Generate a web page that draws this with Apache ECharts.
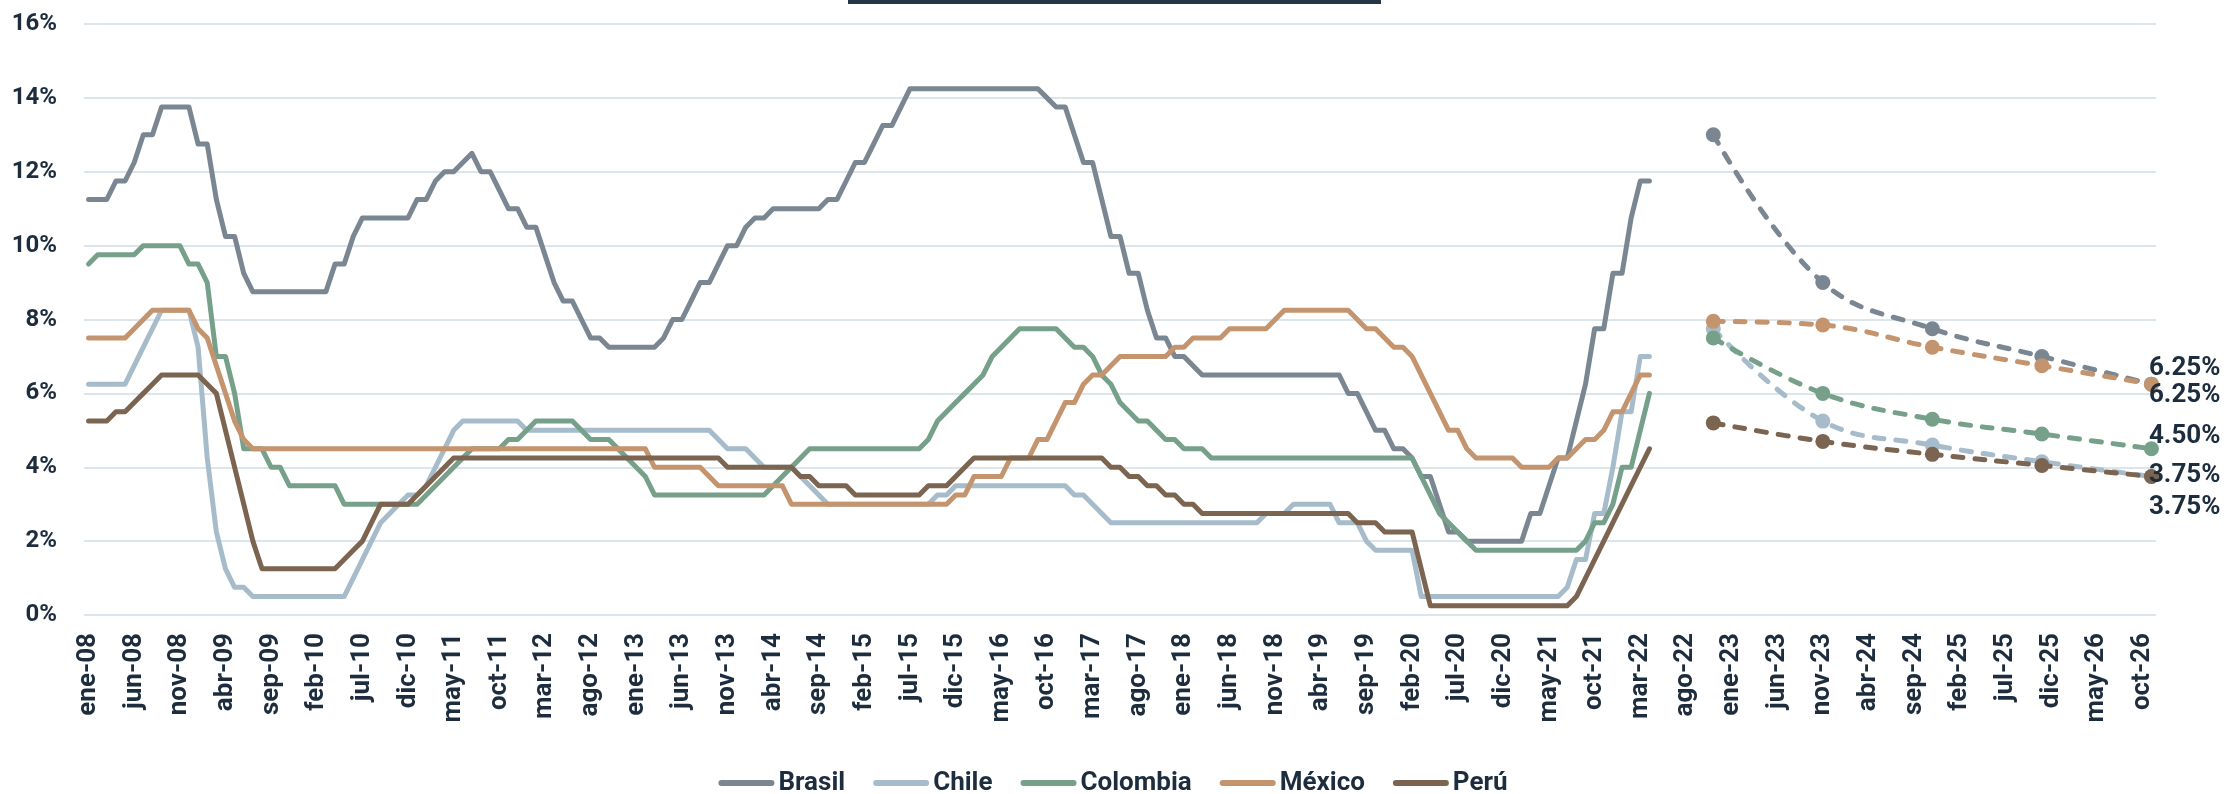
<!DOCTYPE html>
<html>
<head>
<meta charset="utf-8">
<script src="https://cdn.jsdelivr.net/npm/echarts/dist/echarts.min.js"></script>
<style>
  html, body { margin: 0; padding: 0; background: #fff; }
  #container { width: 2226px; height: 794px; }
</style>
</head>
<body>
<div id="container"></div>
<script>
// month labels ene-08 .. nov-26
var monthNames = ['ene','feb','mar','abr','may','jun','jul','ago','sep','oct','nov','dic'];
var categories = [];
for (var y = 8; y <= 26; y++) {
    for (var m = 0; m < 12; m++) {
        if (y === 26 && m > 10) break;
        categories.push(monthNames[m] + '-' + (y < 10 ? '0' + y : '' + y));
    }
}

// tasas de politica monetaria, fin de mes, ene-08 .. abr-22
var brasil = [
    11.25,11.25,11.25,11.75,11.75,12.25,13.00,13.00,13.75,13.75,13.75,13.75,
    12.75,12.75,11.25,10.25,10.25,9.25,8.75,8.75,8.75,8.75,8.75,8.75,
    8.75,8.75,8.75,9.50,9.50,10.25,10.75,10.75,10.75,10.75,10.75,10.75,
    11.25,11.25,11.75,12.00,12.00,12.25,12.50,12.00,12.00,11.50,11.00,11.00,
    10.50,10.50,9.75,9.00,8.50,8.50,8.00,7.50,7.50,7.25,7.25,7.25,
    7.25,7.25,7.25,7.50,8.00,8.00,8.50,9.00,9.00,9.50,10.00,10.00,
    10.50,10.75,10.75,11.00,11.00,11.00,11.00,11.00,11.00,11.25,11.25,11.75,
    12.25,12.25,12.75,13.25,13.25,13.75,14.25,14.25,14.25,14.25,14.25,14.25,
    14.25,14.25,14.25,14.25,14.25,14.25,14.25,14.25,14.25,14.00,13.75,13.75,
    13.00,12.25,12.25,11.25,10.25,10.25,9.25,9.25,8.25,7.50,7.50,7.00,
    7.00,6.75,6.50,6.50,6.50,6.50,6.50,6.50,6.50,6.50,6.50,6.50,
    6.50,6.50,6.50,6.50,6.50,6.50,6.00,6.00,5.50,5.00,5.00,4.50,
    4.50,4.25,3.75,3.75,3.00,2.25,2.25,2.00,2.00,2.00,2.00,2.00,
    2.00,2.00,2.75,2.75,3.50,4.25,4.25,5.25,6.25,7.75,7.75,9.25,
    9.25,10.75,11.75,11.75
];
var chile = [
    6.25,6.25,6.25,6.25,6.25,6.75,7.25,7.75,8.25,8.25,8.25,8.25,
    7.25,4.25,2.25,1.25,0.75,0.75,0.50,0.50,0.50,0.50,0.50,0.50,
    0.50,0.50,0.50,0.50,0.50,1.00,1.50,2.00,2.50,2.75,3.00,3.25,
    3.25,3.50,4.00,4.50,5.00,5.25,5.25,5.25,5.25,5.25,5.25,5.25,
    5.00,5.00,5.00,5.00,5.00,5.00,5.00,5.00,5.00,5.00,5.00,5.00,
    5.00,5.00,5.00,5.00,5.00,5.00,5.00,5.00,5.00,4.75,4.50,4.50,
    4.50,4.25,4.00,4.00,4.00,4.00,3.75,3.50,3.25,3.00,3.00,3.00,
    3.00,3.00,3.00,3.00,3.00,3.00,3.00,3.00,3.00,3.25,3.25,3.50,
    3.50,3.50,3.50,3.50,3.50,3.50,3.50,3.50,3.50,3.50,3.50,3.50,
    3.25,3.25,3.00,2.75,2.50,2.50,2.50,2.50,2.50,2.50,2.50,2.50,
    2.50,2.50,2.50,2.50,2.50,2.50,2.50,2.50,2.50,2.75,2.75,2.75,
    3.00,3.00,3.00,3.00,3.00,2.50,2.50,2.50,2.00,1.75,1.75,1.75,
    1.75,1.75,0.50,0.50,0.50,0.50,0.50,0.50,0.50,0.50,0.50,0.50,
    0.50,0.50,0.50,0.50,0.50,0.50,0.75,1.50,1.50,2.75,2.75,4.00,
    5.50,5.50,7.00,7.00
];
var colombia = [
    9.50,9.75,9.75,9.75,9.75,9.75,10.00,10.00,10.00,10.00,10.00,9.50,
    9.50,9.00,7.00,7.00,6.00,4.50,4.50,4.50,4.00,4.00,3.50,3.50,
    3.50,3.50,3.50,3.50,3.00,3.00,3.00,3.00,3.00,3.00,3.00,3.00,
    3.00,3.25,3.50,3.75,4.00,4.25,4.50,4.50,4.50,4.50,4.75,4.75,
    5.00,5.25,5.25,5.25,5.25,5.25,5.00,4.75,4.75,4.75,4.50,4.25,
    4.00,3.75,3.25,3.25,3.25,3.25,3.25,3.25,3.25,3.25,3.25,3.25,
    3.25,3.25,3.25,3.50,3.75,4.00,4.25,4.50,4.50,4.50,4.50,4.50,
    4.50,4.50,4.50,4.50,4.50,4.50,4.50,4.50,4.75,5.25,5.50,5.75,
    6.00,6.25,6.50,7.00,7.25,7.50,7.75,7.75,7.75,7.75,7.75,7.50,
    7.25,7.25,7.00,6.50,6.25,5.75,5.50,5.25,5.25,5.00,4.75,4.75,
    4.50,4.50,4.50,4.25,4.25,4.25,4.25,4.25,4.25,4.25,4.25,4.25,
    4.25,4.25,4.25,4.25,4.25,4.25,4.25,4.25,4.25,4.25,4.25,4.25,
    4.25,4.25,3.75,3.25,2.75,2.50,2.25,2.00,1.75,1.75,1.75,1.75,
    1.75,1.75,1.75,1.75,1.75,1.75,1.75,1.75,2.00,2.50,2.50,3.00,
    4.00,4.00,5.00,6.00
];
var mexico = [
    7.50,7.50,7.50,7.50,7.50,7.75,8.00,8.25,8.25,8.25,8.25,8.25,
    7.75,7.50,6.75,6.00,5.25,4.75,4.50,4.50,4.50,4.50,4.50,4.50,
    4.50,4.50,4.50,4.50,4.50,4.50,4.50,4.50,4.50,4.50,4.50,4.50,
    4.50,4.50,4.50,4.50,4.50,4.50,4.50,4.50,4.50,4.50,4.50,4.50,
    4.50,4.50,4.50,4.50,4.50,4.50,4.50,4.50,4.50,4.50,4.50,4.50,
    4.50,4.50,4.00,4.00,4.00,4.00,4.00,4.00,3.75,3.50,3.50,3.50,
    3.50,3.50,3.50,3.50,3.50,3.00,3.00,3.00,3.00,3.00,3.00,3.00,
    3.00,3.00,3.00,3.00,3.00,3.00,3.00,3.00,3.00,3.00,3.00,3.25,
    3.25,3.75,3.75,3.75,3.75,4.25,4.25,4.25,4.75,4.75,5.25,5.75,
    5.75,6.25,6.50,6.50,6.75,7.00,7.00,7.00,7.00,7.00,7.00,7.25,
    7.25,7.50,7.50,7.50,7.50,7.75,7.75,7.75,7.75,7.75,8.00,8.25,
    8.25,8.25,8.25,8.25,8.25,8.25,8.25,8.00,7.75,7.75,7.50,7.25,
    7.25,7.00,6.50,6.00,5.50,5.00,5.00,4.50,4.25,4.25,4.25,4.25,
    4.25,4.00,4.00,4.00,4.00,4.25,4.25,4.50,4.75,4.75,5.00,5.50,
    5.50,6.00,6.50,6.50
];
var peru = [
    5.25,5.25,5.25,5.50,5.50,5.75,6.00,6.25,6.50,6.50,6.50,6.50,
    6.50,6.25,6.00,5.00,4.00,3.00,2.00,1.25,1.25,1.25,1.25,1.25,
    1.25,1.25,1.25,1.25,1.50,1.75,2.00,2.50,3.00,3.00,3.00,3.00,
    3.25,3.50,3.75,4.00,4.25,4.25,4.25,4.25,4.25,4.25,4.25,4.25,
    4.25,4.25,4.25,4.25,4.25,4.25,4.25,4.25,4.25,4.25,4.25,4.25,
    4.25,4.25,4.25,4.25,4.25,4.25,4.25,4.25,4.25,4.25,4.00,4.00,
    4.00,4.00,4.00,4.00,4.00,4.00,3.75,3.75,3.50,3.50,3.50,3.50,
    3.25,3.25,3.25,3.25,3.25,3.25,3.25,3.25,3.50,3.50,3.50,3.75,
    4.00,4.25,4.25,4.25,4.25,4.25,4.25,4.25,4.25,4.25,4.25,4.25,
    4.25,4.25,4.25,4.25,4.00,4.00,3.75,3.75,3.50,3.50,3.25,3.25,
    3.00,3.00,2.75,2.75,2.75,2.75,2.75,2.75,2.75,2.75,2.75,2.75,
    2.75,2.75,2.75,2.75,2.75,2.75,2.75,2.50,2.50,2.50,2.25,2.25,
    2.25,2.25,1.25,0.25,0.25,0.25,0.25,0.25,0.25,0.25,0.25,0.25,
    0.25,0.25,0.25,0.25,0.25,0.25,0.25,0.50,1.00,1.50,2.00,2.50,
    3.00,3.50,4.00,4.50
];

// proyecciones
var forecastMonths = ['nov-22', 'nov-23', 'nov-24', 'nov-25', 'nov-26'];
var brasilProy   = [13.00, 9.00, 7.75, 7.00, 6.25];
var chileProy    = [7.75, 5.25, 4.60, 4.15, 3.75];
var colombiaProy = [7.50, 6.00, 5.30, 4.90, 4.50];
var mexicoProy   = [7.95, 7.85, 7.25, 6.75, 6.25];
var peruProy     = [5.20, 4.70, 4.35, 4.05, 3.75];

var textColor = '#1d2d3e';
var colors = {
    'Brasil': '#7a8792',
    'Chile': '#a7bccb',
    'Colombia': '#76a08a',
    'México': '#c4946f',
    'Perú': '#7b6450'
};

function histSeries(name, data) {
    return {
        name: name,
        type: 'line',
        data: data,
        symbol: 'none',
        itemStyle: { color: colors[name] },
        lineStyle: { width: 5, color: colors[name], join: 'round', cap: 'round' }
    };
}

// serie punteada con etiqueta en el ultimo punto
function proySeries(name, values, labelDy) {
    var data = categories.map(function () { return null; });
    forecastMonths.forEach(function (m, i) {
        var idx = categories.indexOf(m);
        if (i === forecastMonths.length - 1) {
            data[idx] = {
                value: values[i],
                label: {
                    show: true,
                    position: 'right',
                    distance: 5,
                    offset: [-15, labelDy],
                    fontFamily: 'Roboto',
                    fontSize: 26,
                    fontWeight: 'bold',
                    color: textColor,
                    formatter: function (p) { return p.value.toFixed(2) + '%'; }
                }
            };
        } else {
            data[idx] = values[i];
        }
    });
    return {
        name: name + ' proyección',
        type: 'line',
        data: data,
        connectNulls: true,
        smooth: 0.4,
        symbol: 'circle',
        symbolSize: 15,
        showAllSymbol: true,
        itemStyle: { color: colors[name] },
        lineStyle: { width: 5, color: colors[name], type: [10, 12], cap: 'round' }
    };
}

var dom = document.getElementById('container');
var myChart = echarts.init(dom);

var option = {
    animation: false,
    backgroundColor: '#ffffff',
    grid: {
        left: 84,
        right: 70,
        top: 24,
        bottom: 179
    },
    graphic: [
        {
            type: 'rect',
            left: 848,
            top: 0,
            shape: { width: 533, height: 4 },
            style: { fill: '#253746' }
        }
    ],
    legend: {
        data: ['Brasil', 'Chile', 'Colombia', 'México', 'Perú'],
        top: 765,
        left: 'center',
        itemWidth: 56,
        itemHeight: 7,
        itemGap: 28,
        icon: 'path://M3,0 L53,0 A3,3 0 0 1 53,6 L3,6 A3,3 0 0 1 3,0 Z',
        textStyle: {
            fontFamily: 'Roboto',
            fontSize: 26,
            fontWeight: 'bold',
            color: textColor,
            padding: [0, 0, 0, -1]
        }
    },
    xAxis: {
        type: 'category',
        data: categories,
        boundaryGap: true,
        axisLine: { show: false },
        axisTick: { show: false },
        axisLabel: {
            interval: 4,
            rotate: 90,
            margin: 18,
            fontFamily: 'Roboto',
            fontSize: 26,
            fontWeight: 'bold',
            color: textColor
        },
        splitLine: { show: false }
    },
    yAxis: {
        type: 'value',
        min: 0,
        max: 16,
        interval: 2,
        axisLine: { show: false },
        axisTick: { show: false },
        axisLabel: {
            formatter: '{value}%',
            margin: 27,
            fontFamily: 'Roboto',
            fontSize: 24,
            fontWeight: 'bold',
            color: textColor
        },
        splitLine: { lineStyle: { color: '#dde5ec', width: 2 } }
    },
    series: [
        histSeries('Brasil', brasil),
        histSeries('Chile', chile),
        histSeries('Colombia', colombia),
        histSeries('México', mexico),
        histSeries('Perú', peru),
        proySeries('Brasil', brasilProy, -16),
        proySeries('Chile', chileProy, -1),
        proySeries('Colombia', colombiaProy, -12),
        proySeries('México', mexicoProy, 11),
        proySeries('Perú', peruProy, 31)
    ]
};

if (option && typeof option === 'object') {
    myChart.setOption(option, true);
}
</script>
</body>
</html>
